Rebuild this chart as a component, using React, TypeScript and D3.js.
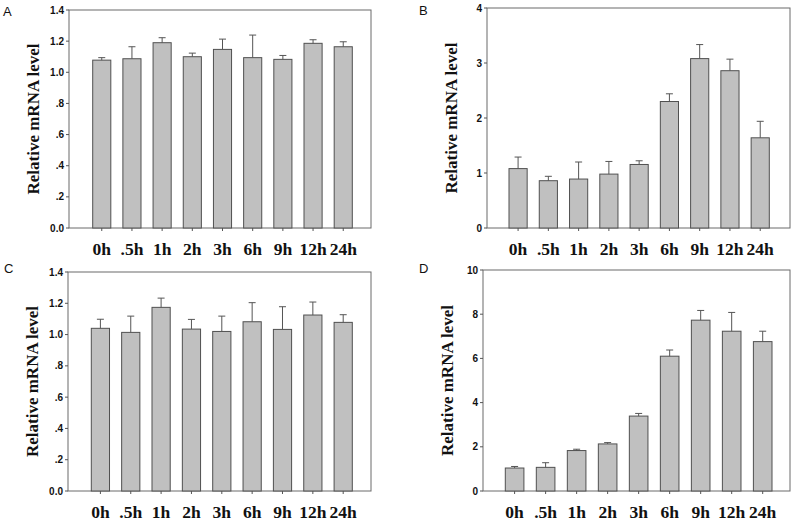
import React, { useEffect, useRef } from 'react'
import * as d3 from 'd3'

// time points shared by all four panels
const hours = ['0h', '.5h', '1h', '2h', '3h', '6h', '9h', '12h', '24h']

// means and (upper) error values
const meansA = [1.078, 1.087, 1.19, 1.1, 1.147, 1.094, 1.083, 1.186, 1.164]
const errA = [0.016, 0.077, 0.032, 0.023, 0.066, 0.145, 0.025, 0.023, 0.032]

const meansB = [1.08, 0.86, 0.89, 0.98, 1.155, 2.3, 3.08, 2.86, 1.64]
const errB = [0.21, 0.08, 0.31, 0.23, 0.067, 0.14, 0.255, 0.21, 0.3]

const meansC = [1.04, 1.014, 1.174, 1.035, 1.02, 1.082, 1.033, 1.125, 1.078]
const errC = [0.058, 0.104, 0.059, 0.062, 0.098, 0.122, 0.145, 0.083, 0.049]

const meansD = [1.04, 1.07, 1.83, 2.13, 3.39, 6.1, 7.73, 7.23, 6.76]
const errD = [0.07, 0.21, 0.06, 0.06, 0.12, 0.28, 0.44, 0.85, 0.47]

// y axis ticks
const ticksSmall = [0, 0.2, 0.4, 0.6, 0.8, 1.0, 1.2, 1.4]
const tickLabelsSmall = ['0.0', '.2', '.4', '.6', '.8', '1.0', '1.2', '1.4']
const ticksB = [0, 1, 2, 3, 4]
const tickLabelsB = ['0', '1', '2', '3', '4']
const ticksD = [0, 2, 4, 6, 8, 10]
const tickLabelsD = ['0', '2', '4', '6', '8', '10']

const yTitle = 'Relative mRNA level'

const panels = [
  { letter: 'A', means: meansA, errs: errA, ticks: ticksSmall, tickLabels: tickLabelsSmall,
    box: { left: 69, right: 371, top: 10, bottom: 228 }, bars: [92.7, 352.3], letterPos: [3, 16] },
  { letter: 'B', means: meansB, errs: errB, ticks: ticksB, tickLabels: tickLabelsB,
    box: { left: 487, right: 790, top: 8, bottom: 228 }, bars: [509, 769.3], letterPos: [419, 15] },
  { letter: 'C', means: meansC, errs: errC, ticks: ticksSmall, tickLabels: tickLabelsSmall,
    box: { left: 68, right: 371, top: 272, bottom: 491 }, bars: [91.3, 352.3], letterPos: [4, 273] },
  { letter: 'D', means: meansD, errs: errD, ticks: ticksD, tickLabels: tickLabelsD,
    box: { left: 483, right: 790, top: 270, bottom: 491 }, bars: [505.3, 772], letterPos: [419, 273] },
]

function App() {
  const ref = useRef<SVGSVGElement>(null)

  useEffect(() => {
    const svg = d3.select(ref.current)
    svg.selectAll('*').remove()

    panels.forEach((p) => {
      const g = svg.append('g')
      const b = p.box
      const ymax = p.ticks[p.ticks.length - 1]

      const x = d3.scaleBand<string>()
        .domain(hours)
        .range(p.bars as [number, number])
        .paddingInner(0.4)
        .paddingOuter(0)

      const y = d3.scaleLinear().domain([0, ymax]).range([b.bottom, b.top])

      // frame
      g.append('rect')
        .attr('x', b.left)
        .attr('y', b.top)
        .attr('width', b.right - b.left)
        .attr('height', b.bottom - b.top)
        .attr('fill', 'none')
        .attr('stroke', '#6a6a6a')
        .attr('stroke-width', 1)

      // y ticks + labels
      g.selectAll('.yt')
        .data(p.ticks)
        .enter()
        .append('line')
        .attr('x1', b.left - 3)
        .attr('x2', b.left)
        .attr('y1', (d) => y(d))
        .attr('y2', (d) => y(d))
        .attr('stroke', '#555')

      g.selectAll('.yl')
        .data(p.ticks)
        .enter()
        .append('text')
        .text((d, i) => p.tickLabels[i])
        .attr('x', b.left - 5)
        .attr('y', (d) => y(d))
        .attr('dy', '0.35em')
        .attr('text-anchor', 'end')
        .style('font-family', 'Liberation Sans, Arial, sans-serif')
        .style('font-weight', 'bold')
        .style('font-size', '10px')
        .attr('fill', '#111')

      // bars
      g.selectAll('.bar')
        .data(p.means)
        .enter()
        .append('rect')
        .attr('x', (d, i) => x(hours[i])!)
        .attr('y', (d) => y(d))
        .attr('width', x.bandwidth())
        .attr('height', (d) => b.bottom - y(d))
        .attr('fill', '#c0c0c0')
        .attr('stroke', '#505050')
        .attr('stroke-width', 1)

      // error bars (upper only)
      const cx = (i: number) => x(hours[i])! + x.bandwidth() / 2
      g.selectAll('.err')
        .data(p.means)
        .enter()
        .append('line')
        .attr('x1', (d, i) => cx(i))
        .attr('x2', (d, i) => cx(i))
        .attr('y1', (d) => y(d))
        .attr('y2', (d, i) => y(d + p.errs[i]))
        .attr('stroke', '#555')
      g.selectAll('.cap')
        .data(p.means)
        .enter()
        .append('line')
        .attr('x1', (d, i) => cx(i) - 3.5)
        .attr('x2', (d, i) => cx(i) + 3.5)
        .attr('y1', (d, i) => y(d + p.errs[i]))
        .attr('y2', (d, i) => y(d + p.errs[i]))
        .attr('stroke', '#555')

      // x ticks + labels
      g.selectAll('.xt')
        .data(hours)
        .enter()
        .append('line')
        .attr('x1', (d, i) => cx(i))
        .attr('x2', (d, i) => cx(i))
        .attr('y1', b.bottom)
        .attr('y2', b.bottom + 3)
        .attr('stroke', '#555')

      g.selectAll('.xl')
        .data(hours)
        .enter()
        .append('text')
        .text((d) => d)
        .attr('x', (d, i) => cx(i))
        .attr('y', b.bottom + 27)
        .attr('text-anchor', 'middle')
        .style('font-family', 'Liberation Serif, Times New Roman, serif')
        .style('font-weight', 'bold')
        .style('font-size', '17.5px')
        .attr('fill', '#111')

      // y title
      g.append('text')
        .text(yTitle)
        .attr('transform', 'translate(' + (b.left - 30) + ',' + (b.top + b.bottom) / 2 + ') rotate(-90)')
        .attr('text-anchor', 'middle')
        .style('font-family', 'Liberation Serif, Times New Roman, serif')
        .style('font-weight', 'bold')
        .style('font-size', '17px')
        .attr('fill', '#111')

      // panel letter
      g.append('text')
        .text(p.letter)
        .attr('x', p.letterPos[0])
        .attr('y', p.letterPos[1])
        .style('font-family', 'Liberation Sans, Arial, sans-serif')
        .style('font-size', '13px')
        .attr('fill', '#111')
    })
  }, [])

  return (
    <div style={{ position: 'absolute', left: 0, top: 0 }}>
      <svg ref={ref} width={800} height={524} style={{ display: 'block', background: '#fff' }}></svg>
    </div>
  )
}

export default App
